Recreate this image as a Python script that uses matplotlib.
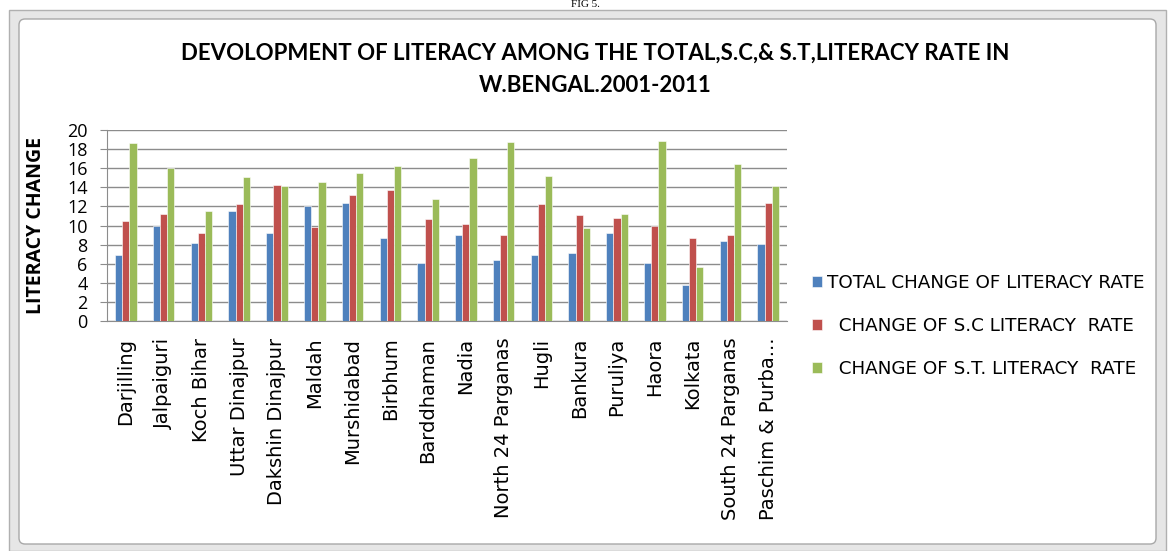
import matplotlib
matplotlib.use("Agg")
import matplotlib.pyplot as plt
import matplotlib.patches as patches
import numpy as np

# districts of West Bengal
districts = [
    "Darjilling", "Jalpaiguri", "Koch Bihar", "Uttar Dinajpur", "Dakshin Dinajpur",
    "Maldah", "Murshidabad", "Birbhum", "Barddhaman", "Nadia", "North 24 Parganas",
    "Hugli", "Bankura", "Puruliya", "Haora", "Kolkata", "South 24 Parganas",
    "Paschim & Purba...",
]
total_change = [6.9, 10.0, 8.2, 11.5, 9.2, 12.0, 12.4, 8.7, 6.1, 9.0, 6.4,
                6.9, 7.1, 9.2, 6.1, 3.8, 8.4, 8.1]
sc_change = [10.5, 11.2, 9.2, 12.2, 14.2, 9.8, 13.2, 13.7, 10.7, 10.2, 9.0,
             12.2, 11.1, 10.8, 10.0, 8.7, 9.0, 12.4]
st_change = [18.6, 16.0, 11.5, 15.1, 14.1, 14.6, 15.5, 16.2, 12.8, 17.1, 18.7,
             15.2, 9.7, 11.2, 18.8, 5.7, 16.4, 14.1]
series_labels = ["TOTAL CHANGE OF LITERACY RATE",
                 "  CHANGE OF S.C LITERACY  RATE",
                 "  CHANGE OF S.T. LITERACY  RATE"]
colors = ["#4F81BD", "#C0504D", "#9BBB59"]
y_ticks = list(range(0, 21, 2))

W, H = 1169, 551
fig = plt.figure(figsize=(W / 100, H / 100), dpi=100, facecolor="white")

# chart frame (excel style)
frame = fig.add_axes([0, 0, 1, 1], zorder=-1)
frame.set_xlim(0, W)
frame.set_ylim(H, 0)
frame.axis("off")
frame.add_patch(patches.Rectangle((9, 10), W - 12, H - 10, facecolor="#e6e6e6",
                                  edgecolor="#b0b0b0", lw=1.0))
frame.add_patch(patches.FancyBboxPatch((19, 19), W - 32, H - 26,
                                       boxstyle="round,pad=0,rounding_size=6",
                                       facecolor="white", edgecolor="#a8a8a8", lw=1.0))
frame.text(585, 0, "FIG 5.", fontsize=8, family="Liberation Serif",
           ha="center", va="top", color="black")

title_font = ["Lato", "DejaVu Sans"]
frame.text(595, 53, "DEVOLOPMENT OF LITERACY AMONG THE TOTAL,S.C,& S.T,LITERACY RATE IN",
           fontsize=16, fontweight="bold", family=title_font, ha="center", va="center")
frame.text(595, 85, "W.BENGAL.2001-2011", fontsize=16, fontweight="bold",
           family=title_font, ha="center", va="center")

ax = fig.add_axes([107 / W, 1 - 321 / H, (787 - 107) / W, (321 - 130) / H])
x = np.arange(len(districts))
bw = 0.19
for i, (vals, col, lab) in enumerate(zip([total_change, sc_change, st_change],
                                         colors, series_labels)):
    ax.bar(x + (i - 1) * bw, vals, width=bw, color=col, edgecolor="white",
           linewidth=0.4, label=lab, zorder=3)

ax.set_xlim(-0.5, len(districts) - 0.5)
ax.set_ylim(0, 20)
ax.set_yticks(y_ticks)
ax.yaxis.grid(True, color="#8c8c8c", lw=1.0, zorder=0)
ax.set_xticks(x)
ax.set_xticklabels(districts, rotation=90, fontsize=14, family="DejaVu Sans")
ax.tick_params(axis="x", length=0, pad=12)
ax.tick_params(axis="y", length=5, color="#8c8c8c", labelsize=13, pad=9)
for lbl in ax.get_yticklabels():
    lbl.set_family("Open Sans")
for s in ["top", "right"]:
    ax.spines[s].set_visible(False)
ax.spines["left"].set_color("#8c8c8c")
ax.spines["bottom"].set_color("#8c8c8c")
ax.set_ylabel("LITERACY CHANGE", fontsize=14, fontweight="bold",
              family="Open Sans")
ax.yaxis.set_label_coords(-0.09, 0.5)

fig.legend(loc="center left", bbox_to_anchor=(795 / W, 1 - 326 / H), frameon=False,
           handlelength=0.55, handleheight=0.55, handletextpad=0.3,
           labelspacing=1.35, prop={"family": "DejaVu Sans", "size": 13.2})

fig.savefig("out.png", dpi=100, facecolor="white")
